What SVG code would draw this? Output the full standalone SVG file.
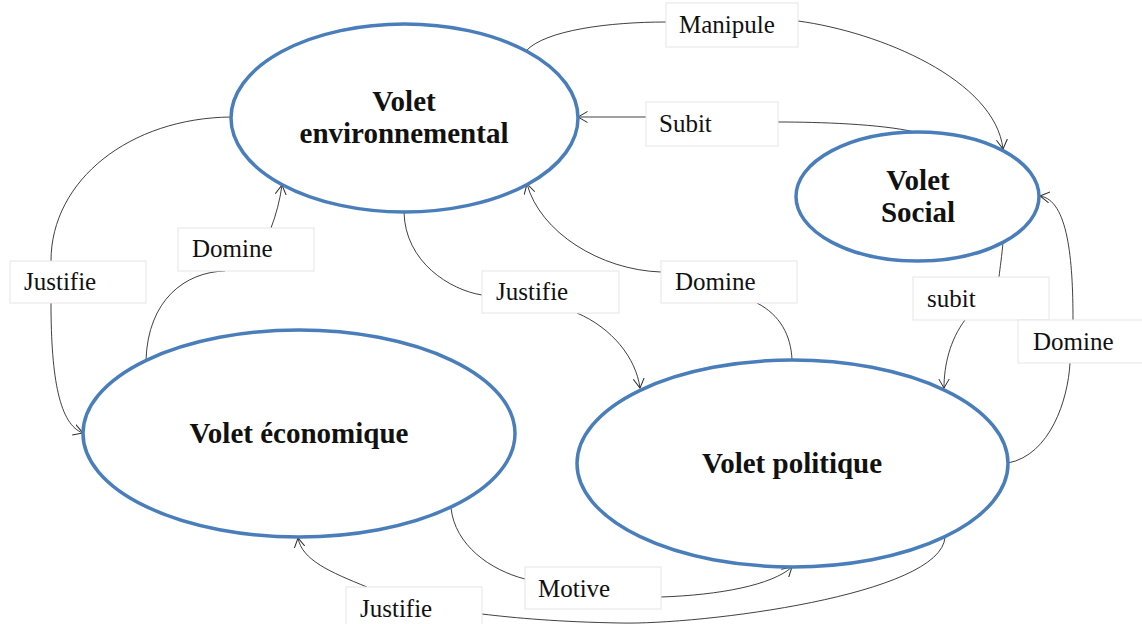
<svg xmlns="http://www.w3.org/2000/svg" width="1142" height="624" viewBox="0 0 1142 624">
<style>
.node{fill:#fff;stroke:#4a7ebb;stroke-width:3.5}
.nt{font-family:"Liberation Serif","Times New Roman",serif;font-weight:bold;font-size:29px;fill:#111;text-anchor:middle}
.ln{fill:none;stroke:#2a2a2a;stroke-width:0.9}
.lb{fill:#fff;stroke:#e6e6e6;stroke-width:1}
.lt{font-family:"Liberation Serif","Times New Roman",serif;font-size:25px;fill:#111}
</style>
<defs>
<marker id="arr" viewBox="0 0 10 12" refX="9.5" refY="6" markerWidth="10" markerHeight="12" markerUnits="userSpaceOnUse" orient="auto">
<path d="M0,0.5 L9.5,6 L0,11.5" fill="none" stroke="#2a2a2a" stroke-width="1"/>
</marker>
</defs>
<rect width="1142" height="624" fill="#fff"/>
<g id="connectors">
<g id="e-manipule">
<path class="ln" d="M526,51 C545,30 610,22 666,22"/>
<path class="ln" d="M798,21 C880,32 995,80 1003,149" marker-end="url(#arr)"/>
<rect class="lb" x="666" y="3" width="132" height="44"/>
<text class="lt" x="679" y="33">Manipule</text>
</g>
<g id="e-subit-top">
<path class="ln" d="M915,132 C880,124 820,122 778,122"/>
<path class="ln" d="M646,117 L578,117" marker-end="url(#arr)"/>
<rect class="lb" x="646" y="102" width="132" height="44"/>
<text class="lt" x="659" y="132">Subit</text>
</g>
<g id="e-justifie-left">
<path class="ln" d="M231,117 C130,118 51,180 51,261"/>
<path class="ln" d="M51,303 C51,380 60,425 83,433" marker-end="url(#arr)"/>
<rect class="lb" x="10" y="261" width="136" height="42"/>
<text class="lt" x="24" y="290">Justifie</text>
</g>
<g id="e-domine-left">
<path class="ln" d="M146,360 C148,300 185,272 225,271"/>
<path class="ln" d="M271,228 C276,215 280,200 282,185" marker-end="url(#arr)"/>
<rect class="lb" x="178" y="228" width="136" height="43"/>
<text class="lt" x="192" y="257">Domine</text>
</g>
<g id="e-justifie-mid">
<path class="ln" d="M404,212 C405,262 450,290 482,295"/>
<path class="ln" d="M577,313 C612,328 636,358 640,388" marker-end="url(#arr)"/>
<rect class="lb" x="482" y="271" width="137" height="42"/>
<text class="lt" x="496" y="300">Justifie</text>
</g>
<g id="e-domine-mid">
<path class="ln" d="M792,360 C791,335 780,315 757,303"/>
<path class="ln" d="M661,272 C600,270 540,232 527,184" marker-end="url(#arr)"/>
<rect class="lb" x="661" y="261" width="136" height="42"/>
<text class="lt" x="675" y="290">Domine</text>
</g>
<g id="e-subit-right">
<path class="ln" d="M1003,242 C1002,255 1000,268 999,277"/>
<path class="ln" d="M965,320 C950,340 944,365 944,388" marker-end="url(#arr)"/>
<rect class="lb" x="913" y="277" width="136" height="43"/>
<text class="lt" x="927" y="307">subit</text>
</g>
<g id="e-domine-right">
<path class="ln" d="M1008,463 C1050,455 1068,400 1070,363"/>
<path class="ln" d="M1073,320 C1073,260 1068,200 1040,196" marker-end="url(#arr)"/>
<rect class="lb" x="1018" y="320" width="130" height="43"/>
<text class="lt" x="1033" y="350">Domine</text>
</g>
<g id="e-motive">
<path class="ln" d="M451,508 C455,545 490,570 525,579"/>
<path class="ln" d="M661,597 C720,595 772,585 792,567" marker-end="url(#arr)"/>
<rect class="lb" x="525" y="567" width="136" height="42"/>
<text class="lt" x="538" y="597">Motive</text>
</g>
<g id="e-justifie-bottom">
<path class="ln" d="M945,537 C942,595 700,625 620,623 C560,622 515,618 482,614"/>
<path class="ln" d="M367,587 C330,572 302,560 298,538" marker-end="url(#arr)"/>
<rect class="lb" x="346" y="587" width="136" height="42"/>
<text class="lt" x="360" y="617">Justifie</text>
</g>
</g>
<g id="n-env">
<ellipse class="node" cx="404.5" cy="118" rx="173.5" ry="94"/>
<text class="nt" x="404" y="111">Volet</text>
<text class="nt" x="404" y="143">environnemental</text>
</g>
<g id="n-social">
<ellipse class="node" cx="917.5" cy="196.5" rx="121.5" ry="64.5"/>
<text class="nt" x="918" y="190">Volet</text>
<text class="nt" x="918" y="222">Social</text>
</g>
<g id="n-eco">
<ellipse class="node" cx="299" cy="433.5" rx="216" ry="103.5"/>
<text class="nt" x="299" y="443">Volet économique</text>
</g>
<g id="n-pol">
<ellipse class="node" cx="792.5" cy="463.5" rx="215.5" ry="103.5"/>
<text class="nt" x="792" y="473">Volet politique</text>
</g>
</svg>
